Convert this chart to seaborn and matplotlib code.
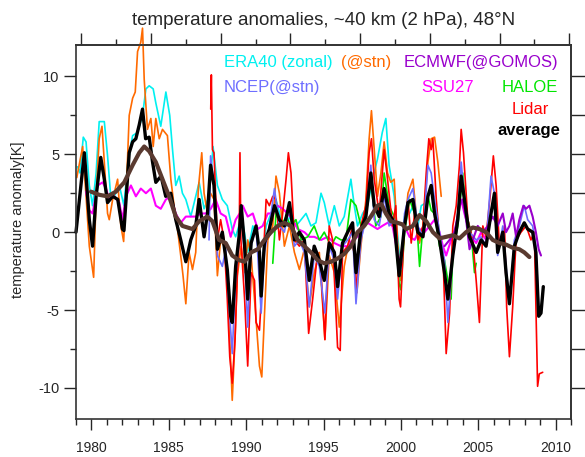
import numpy as np
import pandas as pd
import seaborn as sns
import matplotlib.pyplot as plt

sns.set_theme(style="ticks")
plt.rcParams['font.family'] = ['Liberation Sans', 'DejaVu Sans']
plt.rcParams['axes.unicode_minus'] = False

# (year, anomaly K) pairs
era40 = [(1979.1, 4.2), (1979.26, 3.8), (1979.47, 6.1), (1979.65, 5.8), (1979.86, 3.0), (1980.07, 1.7),
         (1980.3, 3.8), (1980.5, 7.1), (1980.83, 7.1), (1981.04, 4.9), (1981.26, 2.1), (1981.47, 2.3),
         (1981.8, 3.0), (1982.1, 1.7), (1982.33, 4.3), (1982.66, 6.2), (1982.98, 6.4), (1983.3, 7.5),
         (1983.52, 9.2), (1983.73, 9.4), (1983.99, 9.2), (1984.16, 8.3), (1984.48, 6.8), (1984.81, 9.0),
         (1985.06, 7.5), (1985.24, 5.3), (1985.45, 3.0), (1985.67, 3.6), (1985.88, 2.5), (1986.1, 2.1),
         (1986.42, 1.0), (1986.74, 2.3), (1986.96, 3.2), (1987.28, 1.5), (1987.6, 2.3), (1987.86, 5.5),
         (1988.14, 3.0), (1988.46, 2.1), (1988.78, 1.7), (1989.1, 0.2), (1989.32, -0.3), (1989.65, 0.8),
         (1989.78, 0.6), (1990.1, -1.3), (1990.43, 0.4), (1990.75, -0.3), (1990.97, -2.6), (1991.29, 0.4),
         (1991.61, 1.2), (1991.93, 2.1), (1992.26, 0.8), (1992.58, 0.4), (1992.9, 1.2), (1993.22, 0.4),
         (1993.55, 0.8), (1993.87, 1.2), (1994.19, 0.4), (1994.51, 0.6), (1994.84, 2.5), (1995.05, 1.9),
         (1995.37, 0.4), (1995.7, 1.7), (1996.02, 0.4), (1996.34, 1.0), (1996.77, 3.4), (1996.99, 1.7),
         (1997.2, 0.4), (1997.53, 1.2), (1997.85, 1.7), (1998.17, 3.4), (1998.49, 4.7), (1998.8, 6.4),
         (1999.03, 7.3), (1999.24, 4.3), (1999.57, 2.3), (1999.89, -1.3), (2000.0, -3.1), (2000.24, 1.0),
         (2000.56, 1.2), (2000.89, 1.9), (2001.1, 0.4), (2001.32, 1.7), (2001.64, 1.9)]

stn = [(1979.05, 3.5), (1979.43, 5.5), (1979.65, 2.3), (1979.86, -0.9), (1980.14, -2.9), (1980.3, 2.3),
       (1980.5, 6.0), (1980.68, 6.8), (1980.83, 4.5), (1981.04, 1.2), (1981.15, 0.8), (1981.37, 2.1),
       (1981.69, 3.4), (1981.9, 0.4), (1982.08, -0.6), (1982.33, 4.7), (1982.44, 7.5), (1982.66, 8.6),
       (1982.83, 9.0), (1982.98, 11.6), (1983.19, 12.2), (1983.3, 13.1), (1983.41, 9.8), (1983.62, 6.6),
       (1983.84, 7.3), (1983.99, 5.5), (1984.16, 7.3), (1984.38, 6.0), (1984.59, 6.6), (1984.91, 6.2),
       (1985.13, 3.4), (1985.34, 1.7), (1985.56, 0.2), (1985.77, -1.5), (1985.92, -2.8), (1986.1, -4.6),
       (1986.31, -1.3), (1986.53, -2.4), (1986.74, -1.3), (1986.91, 2.8), (1987.13, 5.1), (1987.28, 2.5),
       (1987.5, 1.2), (1987.7, 2.5), (1987.92, 2.1), (1988.14, -2.8), (1988.35, -0.5), (1988.57, -0.9),
       (1988.78, -2.6), (1988.94, -6.9), (1989.1, -10.8), (1989.28, -6.9), (1989.43, -2.8), (1989.68, -0.9),
       (1989.9, -2.6), (1990.1, -0.5), (1990.32, -1.5), (1990.64, -5.6), (1990.86, -8.6), (1991.01, -9.3),
       (1991.18, -5.4), (1991.4, -0.5), (1991.72, 0.4), (1991.93, 3.6), (1992.15, 2.5), (1992.47, -0.9),
       (1992.8, 0.4), (1993.12, -1.3), (1993.44, -2.4), (1993.76, -1.1), (1994.08, -4.8), (1994.4, -2.6),
       (1994.73, -1.3), (1995.09, -6.9), (1995.37, -1.5), (1995.7, -2.6), (1996.02, -6.1), (1996.34, -2.2),
       (1996.66, -0.5), (1996.99, -1.3), (1997.16, -3.9), (1997.42, -0.9), (1997.74, 2.1), (1997.95, 6.0),
       (1998.1, 7.8), (1998.28, 5.3), (1998.49, 2.3), (1998.71, 3.8), (1998.92, 5.8), (1999.14, 3.8),
       (1999.35, 3.2), (1999.57, 3.4), (1999.78, -0.5), (1999.99, -3.1), (2000.14, -0.9), (2000.46, 2.5),
       (2000.78, 3.4), (2000.99, 1.2), (2001.21, -0.7), (2001.43, 0.4), (2001.75, 4.5), (2001.96, 6.0),
       (2002.18, 6.1), (2002.39, 4.5), (2002.61, 2.3)]

ssu27 = [(1979.65, 2.6), (1979.86, 1.4), (1980.07, 1.2), (1980.4, 3.0), (1980.72, 3.2), (1980.94, 2.8),
         (1981.15, 2.1), (1981.47, 2.3), (1981.8, 1.9), (1982.0, 0.8), (1982.23, 2.3), (1982.55, 3.0),
         (1982.87, 2.3), (1983.19, 2.8), (1983.52, 2.5), (1983.84, 2.8), (1984.16, 1.7), (1984.48, 1.5),
         (1984.81, 2.1), (1985.13, 2.3), (1985.45, 1.2), (1985.77, 0.6), (1986.1, 1.0), (1986.42, 1.0),
         (1986.74, 1.0), (1987.06, 1.2), (1987.39, 1.2), (1987.71, 1.5), (1988.03, 2.1), (1988.35, 1.2),
         (1988.68, 1.0), (1989.0, -0.3), (1989.32, 0.8), (1989.58, 1.2), (1989.78, 1.7), (1990.1, 1.0),
         (1990.43, 1.2), (1990.75, 0.2), (1991.07, 0.4), (1991.4, 1.2), (1991.72, 1.2), (1992.04, 1.7),
         (1992.36, 1.5), (1992.69, 1.2), (1993.01, 0.8), (1993.33, 0.2), (1993.76, 0.0), (1994.08, -0.3),
         (1994.4, -0.3), (1994.84, -0.5), (1995.27, -0.3), (1995.7, -0.7), (1996.13, -0.9), (1996.56, -0.9),
         (1996.88, -0.5), (1997.2, -0.3), (1997.53, 0.4), (1997.85, 0.6), (1998.17, 0.4), (1998.49, 0.2),
         (1998.8, 0.4), (1999.14, 0.6), (1999.46, 0.4), (1999.78, -1.3), (1999.99, -2.2), (2000.24, 0.4),
         (2000.56, -0.3), (2000.89, -0.5), (2001.21, 0.2), (2001.53, 0.0), (2001.86, 0.4), (2002.18, 0.8),
         (2002.5, 0.0), (2002.72, -0.9), (2002.93, -1.5), (2003.25, -0.5), (2003.58, 0.4), (2003.9, 2.1),
         (2004.11, 1.2), (2004.33, 0.4), (2004.54, -0.3), (2004.87, -0.7), (2005.19, 0.0), (2005.51, -0.5)]

haloe = [(1991.72, -2.0), (1991.93, 1.2), (1992.26, 0.4), (1992.58, 1.0), (1992.9, 0.4), (1993.22, 0.8),
         (1993.55, -0.5), (1993.98, -0.3), (1994.4, 0.4), (1994.73, -0.5), (1995.05, 0.0), (1995.48, -0.9),
         (1995.8, -0.3), (1996.13, -0.5), (1996.45, -0.5), (1996.77, 2.1), (1997.1, 1.7), (1997.42, 0.4),
         (1997.74, 1.2), (1998.06, 3.2), (1998.38, 0.4), (1998.71, 1.0), (1998.92, 3.8), (1999.24, 1.7),
         (1999.57, 1.0), (1999.89, -3.3), (2000.0, -3.7), (2000.24, 0.0), (2000.56, 2.1), (2000.89, 1.2),
         (2001.1, -0.5), (2001.21, -2.2), (2001.43, 0.4), (2001.75, 2.3), (2001.96, 1.4), (2002.18, 1.2),
         (2002.5, -0.9), (2002.82, -1.8), (2003.04, -3.1), (2003.25, -4.3), (2003.36, -1.3), (2003.68, 0.4),
         (2004.0, 3.8), (2004.22, 1.2), (2004.54, 0.0), (2004.76, -2.6), (2004.87, -2.0)]

lidar = [(1987.71, 7.9), (1987.75, 10.1), (1987.82, 5.3), (1987.92, 5.1), (1988.14, -0.5), (1988.35, 0.8),
         (1988.57, -0.5), (1988.78, -4.3), (1988.94, -8.0), (1989.1, -9.7), (1989.28, -6.9), (1989.43, -2.6),
         (1989.55, -0.5), (1989.6, 5.1), (1989.66, -0.5), (1989.9, -4.3), (1990.1, -8.6), (1990.32, -2.6),
         (1990.54, -3.1), (1990.64, -5.8), (1990.86, -6.3), (1991.07, -2.6), (1991.29, 2.1), (1991.5, 1.7),
         (1991.72, 2.3), (1991.93, 2.1), (1992.15, -0.5), (1992.36, 1.2), (1992.58, 3.4), (1992.73, 5.1),
         (1992.9, 3.8), (1993.12, -0.5), (1993.44, -0.9), (1993.76, -0.5), (1994.04, -6.5), (1994.3, -4.3),
         (1994.62, -1.3), (1994.84, -2.6), (1995.09, -6.9), (1995.37, 0.4), (1995.59, -0.5), (1995.91, -7.4),
         (1996.08, -7.6), (1996.23, -1.3), (1996.56, -0.9), (1996.88, 0.4), (1997.1, -3.9), (1997.42, 0.4),
         (1997.74, 1.7), (1997.95, 5.1), (1998.1, 6.0), (1998.28, 3.4), (1998.6, 1.2), (1998.92, 5.3),
         (1999.14, 3.4), (1999.46, 0.4), (1999.67, 1.7), (1999.89, -4.3), (1999.98, -4.8), (2000.24, 0.6),
         (2000.46, 2.1), (2000.67, -0.7), (2000.89, 1.2), (2001.1, -0.5), (2001.43, 0.4), (2001.64, 3.8),
         (2001.81, 6.0), (2001.96, 5.3), (2002.07, 6.0), (2002.29, 2.1), (2002.5, -0.5), (2002.72, -1.3),
         (2002.93, -7.8), (2003.15, -5.2), (2003.36, 0.4), (2003.58, 1.7), (2003.79, 4.3), (2003.9, 6.6),
         (2004.05, 5.1), (2004.33, 0.8), (2004.65, -0.5), (2004.87, -3.1), (2005.08, -5.8), (2005.3, 0.4),
         (2005.51, -0.3), (2005.77, 2.3), (2005.98, 4.9), (2006.16, 3.0), (2006.37, -0.9), (2006.7, 0.4),
         (2006.84, -4.8), (2007.02, -8.0), (2007.23, -4.8), (2007.45, -0.5), (2007.77, 0.0), (2008.1, 0.4),
         (2008.41, -0.5), (2008.63, 0.0), (2008.84, -9.9), (2008.95, -9.1), (2009.17, -9.0)]

ncep = [(1987.6, -0.5), (1987.7, 4.9), (1987.92, 3.0), (1988.14, -1.5), (1988.46, -2.2), (1988.68, -1.1),
        (1988.9, -4.8), (1989.1, -7.8), (1989.32, -2.8), (1989.54, -0.5), (1989.68, 1.4), (1989.9, -1.5),
        (1990.1, -6.1), (1990.32, -0.9), (1990.64, 0.4), (1990.97, -5.2), (1991.18, -1.3), (1991.5, 0.4),
        (1991.83, 2.8), (1992.15, 0.4), (1992.47, 0.0), (1992.8, 1.7), (1993.12, -0.9), (1993.44, -0.5),
        (1993.76, -1.3), (1994.08, -4.8), (1994.4, -1.5), (1994.73, -2.2), (1995.09, -5.2), (1995.37, -0.9),
        (1995.7, -1.8), (1995.91, -4.3), (1996.23, -0.9), (1996.56, -0.5), (1996.88, 0.0), (1997.1, -4.6),
        (1997.42, -0.5), (1997.74, 0.8), (1998.06, 4.3), (1998.28, 0.8), (1998.6, 0.4), (1998.92, 2.3),
        (1999.24, 0.4), (1999.57, 0.8), (1999.89, -2.2), (2000.0, -2.4), (2000.24, 1.2), (2000.46, 2.1),
        (2000.78, 2.8), (2001.1, 0.4), (2001.43, -0.3), (2001.75, 4.3), (2001.96, 3.8), (2002.18, 2.1),
        (2002.5, 0.0), (2002.82, -1.8), (2003.04, -5.8), (2003.36, -1.3), (2003.68, 0.8), (2003.9, 4.5),
        (2004.11, 2.1), (2004.44, 0.0), (2004.87, -0.5), (2005.19, -0.3), (2005.51, -0.9), (2005.83, 3.6),
        (2006.05, 2.5), (2006.26, -1.5), (2006.59, 0.4), (2006.8, -2.2), (2007.02, -4.6), (2007.34, -0.5),
        (2007.66, 0.4), (2007.98, 1.7), (2008.2, 0.8), (2008.52, 0.4), (2008.73, -0.9), (2008.91, -4.8),
        (2009.06, -5.2)]

ecmwf = [(2002.82, -0.9), (2003.15, -0.5), (2003.47, 0.0), (2003.79, 1.7), (2004.0, 2.1), (2004.22, 0.8),
         (2004.44, -1.1), (2004.65, -0.5), (2004.97, 0.4), (2005.3, 0.0), (2005.62, 0.4), (2005.94, 1.0),
         (2006.26, 0.4), (2006.59, 1.2), (2006.8, 0.0), (2007.02, 0.4), (2007.23, 1.2), (2007.45, -0.3),
         (2007.66, 0.8), (2007.92, 1.7), (2008.09, 1.5), (2008.31, 1.7), (2008.52, 1.0), (2008.73, 0.0),
         (2008.91, -1.1), (2009.06, -1.5)]

average = [(1979.0, 0.0), (1979.54, 5.1), (1979.86, 0.8), (1980.07, -0.9), (1980.3, 2.3), (1980.6, 4.8),
           (1980.83, 3.4), (1981.04, 1.9), (1981.37, 2.3), (1981.7, 2.1), (1982.0, 0.2), (1982.1, 0.1),
           (1982.44, 5.1), (1982.66, 5.8), (1982.87, 6.0), (1983.09, 6.9), (1983.3, 7.9), (1983.5, 6.0),
           (1983.73, 6.1), (1983.95, 4.5), (1984.16, 3.2), (1984.5, 3.6), (1984.8, 2.3), (1985.13, 2.5),
           (1985.45, 0.8), (1985.77, -0.5), (1986.1, -1.9), (1986.42, -0.5), (1986.74, 0.4), (1986.96, 2.1),
           (1987.28, -0.3), (1987.5, 1.2), (1987.7, 4.3), (1987.92, 3.0), (1988.14, -1.1), (1988.46, 0.0),
           (1988.78, -2.4), (1989.0, -5.4), (1989.1, -5.8), (1989.32, -2.2), (1989.54, -0.3), (1989.68, 1.7),
           (1989.9, -0.9), (1990.1, -4.3), (1990.32, -0.7), (1990.64, 0.4), (1990.86, -1.3), (1990.97, -4.1),
           (1991.18, -0.7), (1991.5, 0.2), (1991.83, 1.7), (1992.15, 0.8), (1992.47, 0.4), (1992.8, 1.9),
           (1993.12, -0.5), (1993.44, 0.0), (1993.76, -0.5), (1994.08, -3.1), (1994.4, -0.9), (1994.73, -1.8),
           (1995.05, -3.1), (1995.37, -0.7), (1995.7, -1.3), (1995.91, -3.5), (1996.23, -0.7), (1996.56, 0.0),
           (1996.88, 0.6), (1997.1, -2.6), (1997.42, 0.2), (1997.74, 1.0), (1998.06, 3.8), (1998.28, 1.7),
           (1998.6, 1.0), (1998.92, 2.8), (1999.24, 1.2), (1999.57, 0.6), (1999.89, -2.8), (2000.24, 0.4),
           (2000.46, 1.9), (2000.78, 2.1), (2001.1, 0.0), (2001.43, -0.3), (2001.75, 2.3), (2001.96, 3.0),
           (2002.18, 1.2), (2002.5, -0.5), (2002.82, -2.6), (2003.04, -4.3), (2003.36, -1.5), (2003.68, 0.8),
           (2003.9, 3.6), (2004.11, 2.1), (2004.44, -0.3), (2004.87, -1.3), (2005.19, -0.5), (2005.51, -0.9),
           (2005.83, 1.2), (2006.05, 2.5), (2006.26, -1.3), (2006.59, 0.0), (2006.8, -2.6), (2007.02, -4.6),
           (2007.34, -0.9), (2007.66, 0.0), (2007.98, 0.6), (2008.2, 0.2), (2008.52, 0.0), (2008.73, -1.3),
           (2008.91, -5.4), (2009.06, -5.2), (2009.21, -3.5)]

smooth = [(1979.97, 2.6), (1980.5, 2.4), (1981.04, 2.3), (1981.58, 2.6), (1982.12, 3.2), (1982.66, 4.3),
          (1983.09, 5.1), (1983.41, 5.5), (1983.73, 5.2), (1984.16, 4.5), (1984.59, 3.4), (1985.02, 2.3),
          (1985.45, 1.0), (1985.88, 0.4), (1986.53, 0.2), (1986.96, 0.7), (1987.49, 1.0), (1987.82, 0.7),
          (1988.25, -0.5), (1988.68, -0.7), (1989.1, -1.5), (1989.54, -1.8), (1989.9, -1.9), (1990.32, -1.3),
          (1990.75, -1.1), (1991.18, -0.5), (1991.61, 0.0), (1992.04, 0.4), (1992.47, 0.6), (1992.9, 0.4),
          (1993.33, -0.5), (1993.76, -0.9), (1994.19, -1.3), (1994.62, -1.8), (1995.05, -2.0), (1995.48, -1.9),
          (1995.91, -1.7), (1996.34, -1.4), (1996.77, -0.9), (1997.2, 0.0), (1997.63, 0.4), (1998.06, 1.0),
          (1998.49, 1.7), (1998.75, 1.8), (1999.03, 1.2), (1999.35, 0.7), (1999.78, 0.6), (2000.1, 0.5),
          (2000.35, 0.2), (2000.78, 0.4), (2001.21, 1.1), (2001.64, 0.7), (2002.07, 0.0), (2002.5, -0.4),
          (2002.93, -0.3), (2003.36, -0.2), (2003.79, -0.4), (2004.22, 0.0), (2004.65, 0.3), (2005.08, 0.2),
          (2005.51, 0.0), (2005.94, -0.5), (2006.37, -0.7), (2006.8, -0.8), (2007.23, -1.0), (2007.66, -1.1),
          (2007.98, -1.3), (2008.31, -1.6)]

# series, colour, line width (drawing order)
series = [(era40, '#00F0F0', 1.2), (stn, '#FF6A00', 1.2), (ssu27, '#FF00FF', 1.5),
          (haloe, '#00E600', 1.2), (lidar, '#FF0000', 1.2), (ncep, '#6E6EFF', 1.2),
          (ecmwf, '#9900CC', 1.5), (average, 'black', 2.4), (smooth, '#5A3A30', 3.0)]

fig = plt.figure(figsize=(5.85, 4.57), dpi=100)
ax = fig.add_axes([76 / 585, 1 - 419 / 457, 495 / 585, 373.7 / 457])

for data, col, lw in series:
    df = pd.DataFrame(data, columns=['year', 'anom'])
    sns.lineplot(data=df, x='year', y='anom', ax=ax, color=col, linewidth=lw,
                 estimator=None, sort=False, legend=False, clip_on=False)

ax.set_xlim(1979, 2011)
ax.set_ylim(-12, 12)
ax.set_xlabel('')
ax.set_ylabel('')

ax.set_xticks(range(1980, 2011, 5))
ax.set_xticks(range(1979, 2012), minor=True)
ax.set_yticks([-10, -5, 0, 5, 10])
ax.set_yticks([-7.5, -2.5, 2.5, 7.5], minor=True)
ax.tick_params(axis='x', which='major', direction='out', length=8, width=1, pad=8, labelsize=10)
ax.tick_params(axis='x', which='minor', direction='out', length=4.3, width=1)
ax.tick_params(axis='y', which='major', direction='out', length=9, width=1, pad=3, labelsize=10.5)
ax.tick_params(axis='y', which='minor', direction='out', length=4.3, width=1)
for s in ax.spines.values():
    s.set_color('#333333')
    s.set_linewidth(1.2)
    s.set_visible(True)

# unlabelled ticks on top and right
top = ax.secondary_xaxis('top')
top_ticks = 2010.89 - 2.253 * np.arange(15)
top.set_xticks(top_ticks[::2])
top.set_xticks(top_ticks[1::2], minor=True)
top.tick_params(which='major', direction='out', length=8.5, width=1, labeltop=False)
top.tick_params(which='minor', direction='out', length=4, width=1)
top.spines['top'].set_color('#333333')

right = ax.secondary_yaxis('right')
right.set_yticks(np.arange(-10, 10.1, 2.5))
right.tick_params(direction='out', length=11, width=1, labelright=False)
right.spines['right'].set_color('#333333')

labels = [('ERA40 (zonal)', 0.299, 0.943, '#00F0F0', 'normal'),
          ('(@stn)', 0.536, 0.943, '#FF6A00', 'normal'),
          ('ECMWF(@GOMOS)', 0.661, 0.943, '#9900CC', 'normal'),
          ('NCEP(@stn)', 0.299, 0.874, '#6E6EFF', 'normal'),
          ('SSU27', 0.698, 0.874, '#FF00FF', 'normal'),
          ('HALOE', 0.859, 0.874, '#00E600', 'normal'),
          ('Lidar', 0.881, 0.816, '#FF0000', 'normal'),
          ('average', 0.851, 0.760, 'black', 'bold')]
for txt, x, y, col, w in labels:
    ax.text(x, y, txt, transform=ax.transAxes, color=col, fontsize=12, fontweight=w,
            ha='left', va='baseline')

fig.text(323.5 / 585, 1 - 25 / 457, 'temperature anomalies, ~40 km (2 hPa), 48°N',
         ha='center', va='baseline', fontsize=13.5)
fig.text(18 / 585, 1 - 220 / 457, 'temperature anomaly[K]', rotation=90,
         ha='center', va='center', fontsize=10.5)

fig.savefig('out.png', dpi=100)
